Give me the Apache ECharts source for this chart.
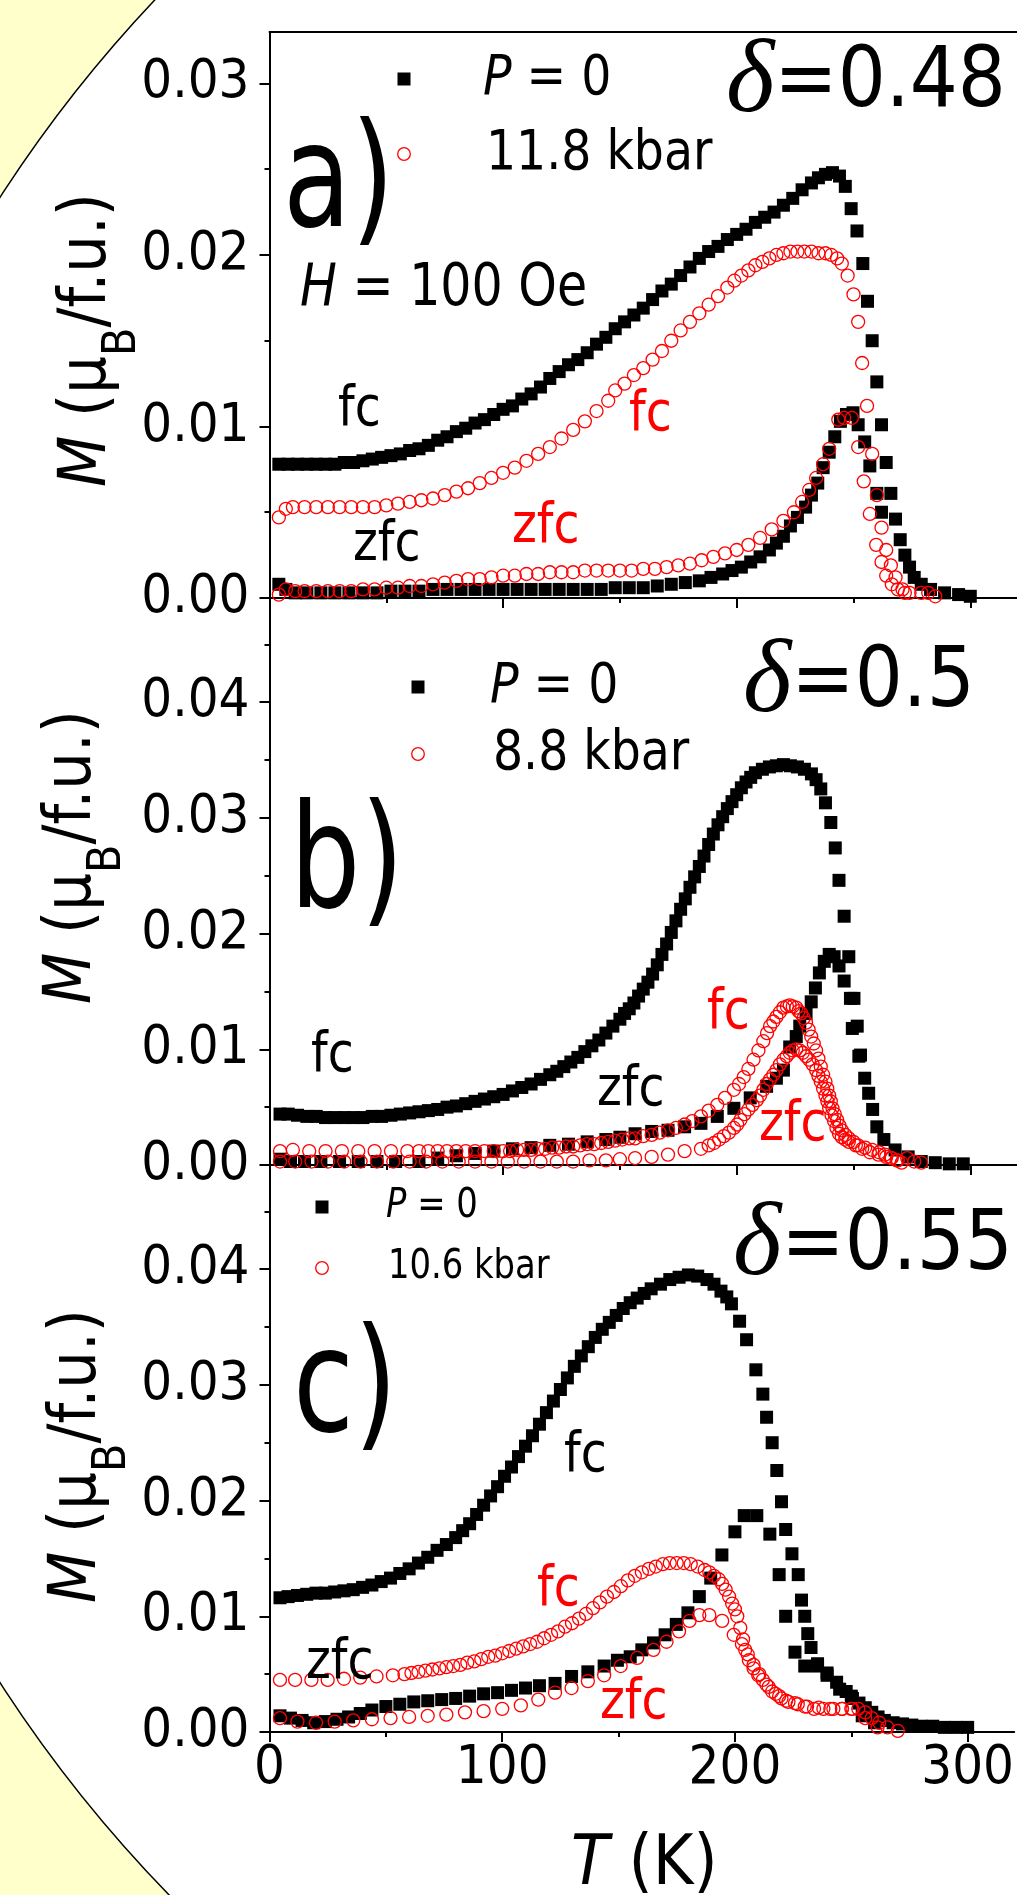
<!DOCTYPE html>
<html>
<head>
<meta charset="utf-8">
<script src="https://cdn.jsdelivr.net/npm/echarts@6/dist/echarts.min.js"></script>
<style>
html,body{margin:0;padding:0;background:#fff;}
#chart{width:1017px;height:1895px;}
</style>
</head>
<body>
<div id="chart"></div>
<script>
// 面板a  delta=0.48
var a_p0_fc = [[4,0.0078],[8,0.0078],[12,0.0078],[16,0.0078],[20,0.0078],[24,0.0078],[28,0.0078],[32,0.0079],[36,0.0079],[40,0.0080],[44,0.0081],[48,0.0082],[52,0.0083],[56,0.0084],[60,0.0086],[64,0.0087],[68,0.0089],[72,0.0092],[76,0.0094],[80,0.0097],[84,0.0099],[88,0.0102],[92,0.0104],[96,0.0107],[100,0.0110],[104,0.0112],[108,0.0116],[112,0.0119],[116,0.0123],[120,0.0128],[124,0.0132],[128,0.0136],[132,0.0139],[136,0.0143],[140,0.0148],[144,0.0152],[148,0.0157],[152,0.0161],[156,0.0165],[160,0.0169],[164,0.0174],[168,0.0179],[172,0.0183],[176,0.0188],[180,0.0193],[184,0.0198],[188,0.0202],[192,0.0205],[196,0.0209],[200,0.0212],[204,0.0215],[208,0.0219],[212,0.0222],[216,0.0225],[220,0.0229],[224,0.0233],[228,0.0238],[232,0.0242],[235,0.0245],[238,0.0247],[241,0.0248],[244,0.0246],[246.5,0.0240],[249,0.0227],[251.5,0.0214],[254,0.0195],[256,0.0173],[258,0.0150],[260,0.0126],[262,0.0101],[264,0.0079],[266,0.0061],[268,0.0046],[270,0.0034],[272,0.0025],[274,0.0018],[276,0.0012],[279,0.0008],[283,0.0005],[289,0.0003],[295,0.0002],[300,0.0001]];
var a_p0_zfc = [[4,0.0008],[7,0.0005],[11,0.0003],[16,0.0003],[22,0.0003],[28,0.0003],[34,0.0003],[40,0.0003],[46,0.0003],[52,0.0004],[58,0.0004],[64,0.0004],[70,0.0005],[76,0.0005],[82,0.0005],[88,0.0005],[94,0.0005],[100,0.0005],[106,0.0005],[112,0.0005],[118,0.0005],[124,0.0005],[130,0.0005],[136,0.0005],[142,0.0005],[148,0.0006],[154,0.0006],[160,0.0006],[166,0.0007],[172,0.0008],[178,0.0009],[184,0.0010],[189,0.0012],[194,0.0014],[198,0.0016],[202,0.0018],[206,0.0021],[210,0.0024],[214,0.0028],[217,0.0032],[220,0.0036],[223,0.0042],[226,0.0047],[229.5,0.0053],[232,0.0060],[234.7,0.0067],[237,0.0076],[239.6,0.0085],[242,0.0094],[244.4,0.0103],[247,0.0107],[249.8,0.0108],[252,0.0101],[254.8,0.0091],[257,0.0077],[260,0.0061],[262,0.0050]];
var a_p1_fc = [[4,0.0047],[7,0.0052],[10,0.0053],[15,0.0053],[20,0.0053],[25,0.0053],[30,0.0053],[35,0.0053],[40,0.0053],[45,0.0053],[50,0.0054],[55,0.0055],[60,0.0056],[65,0.0057],[70,0.0058],[75,0.0060],[80,0.0062],[85,0.0064],[90,0.0067],[95,0.0070],[100,0.0073],[105,0.0076],[110,0.0080],[115,0.0084],[120,0.0088],[125,0.0093],[130,0.0098],[135,0.0103],[140,0.0109],[145,0.0115],[148,0.0121],[152,0.0125],[156,0.0130],[160,0.0134],[164,0.0139],[168,0.0144],[172,0.0150],[176,0.0156],[180,0.0161],[184,0.0166],[188,0.0171],[192,0.0176],[196,0.0181],[199,0.0185],[202,0.0188],[205,0.0191],[208,0.0194],[211,0.0196],[214,0.0198],[217,0.0200],[220,0.0201],[223,0.0202],[226,0.0202],[229,0.0202],[232,0.0202],[235,0.0201],[238,0.0201],[240.5,0.0200],[243,0.0198],[245,0.0195],[247.5,0.0188],[250,0.0177],[252,0.0161],[253.7,0.0137],[255.8,0.0112],[258,0.0084],[260,0.0060],[262,0.0041],[264,0.0028],[266,0.0019],[268,0.0012],[271,0.0005],[274,0.0003],[279,0.0003],[282,0.0003],[285,0.0001]];
var a_p1_zfc = [[4,0.0002],[7,0.0005],[11,0.0004],[15,0.0004],[20,0.0004],[25,0.0004],[30,0.0004],[35,0.0004],[40,0.0005],[45,0.0005],[50,0.0006],[55,0.0006],[60,0.0007],[65,0.0007],[70,0.0008],[75,0.0009],[80,0.0010],[85,0.0011],[90,0.0011],[95,0.0012],[100,0.0013],[105,0.0013],[110,0.0014],[115,0.0014],[120,0.0015],[125,0.0015],[130,0.0015],[135,0.0016],[140,0.0016],[145,0.0016],[150,0.0016],[155,0.0016],[160,0.0017],[165,0.0017],[170,0.0018],[175,0.0019],[180,0.0020],[185,0.0022],[190,0.0024],[195,0.0026],[200,0.0028],[205,0.0031],[210,0.0035],[215,0.0040],[220,0.0045],[224.5,0.0050],[228,0.0056],[231,0.0063],[234,0.0070],[237,0.0078],[239.6,0.0087],[243.5,0.0104],[246,0.0105],[249.3,0.0105],[252,0.0088],[254.4,0.0068],[257,0.0049],[259.7,0.0031],[262,0.0021],[264,0.0013],[266.4,0.0008],[269,0.0005],[272,0.0003]];

// 面板b  delta=0.5
var b_p0_fc = [[4.5,0.0044],[8,0.0044],[12,0.0043],[16,0.0042],[20,0.0042],[24,0.0041],[28,0.0041],[32,0.0041],[36,0.0041],[40,0.0041],[44,0.0042],[48,0.0042],[52,0.0043],[56,0.0044],[60,0.0045],[64,0.0046],[68,0.0047],[72,0.0048],[76,0.0050],[80,0.0051],[84,0.0053],[88,0.0055],[92,0.0057],[96,0.0059],[100,0.0061],[104,0.0064],[108,0.0067],[112,0.0070],[116,0.0074],[120,0.0078],[123,0.0081],[126,0.0085],[129,0.0089],[132,0.0093],[135,0.0098],[138,0.0103],[141,0.0108],[144,0.0114],[147,0.0120],[150,0.0126],[152,0.0131],[154,0.0135],[156,0.0140],[158,0.0146],[160,0.0152],[162,0.0158],[164,0.0165],[166,0.0173],[168,0.0182],[170,0.0191],[172,0.0201],[174,0.0211],[176,0.0221],[178,0.0230],[180,0.0240],[182,0.0249],[184,0.0258],[186,0.0267],[188,0.0277],[190,0.0286],[192,0.0294],[194,0.0301],[196,0.0308],[198,0.0314],[200,0.0320],[202,0.0326],[204,0.0331],[206,0.0335],[208,0.0339],[211,0.0342],[214,0.0344],[217,0.0345],[220,0.0346],[223,0.0345],[226,0.0344],[229,0.0342],[232,0.0338],[234,0.0333],[236,0.0325],[238,0.0313],[240.3,0.0296],[242.2,0.0274],[243.8,0.0246],[246,0.0215],[248,0.0180],[250.2,0.0144],[251.6,0.0120],[253,0.0095],[254.8,0.0075],[256.5,0.0062],[258.2,0.0048],[260,0.0033],[263,0.0022],[267.8,0.0013],[273.4,0.0007],[279,0.0003],[285,0.0002],[291,0.0001],[297,0.0001]];
var b_p0_zfc = [[4.5,0.0005],[9,0.0003],[15,0.0003],[22,0.0003],[30,0.0003],[38,0.0003],[46,0.0003],[54,0.0003],[64,0.0003],[72,0.0006],[80,0.0008],[88,0.0010],[96,0.0012],[104,0.0014],[112,0.0015],[120,0.0017],[128,0.0018],[136,0.0020],[144,0.0022],[150,0.0024],[156.5,0.0027],[163.6,0.0029],[170.6,0.0030],[177.7,0.0033],[184.7,0.0036],[191.7,0.0042],[198.8,0.0049],[205.8,0.0058],[212.8,0.0068],[217,0.0075],[220,0.0082],[222.7,0.0102],[225.5,0.0111],[227,0.0120],[229.7,0.0131],[231.9,0.0141],[233.7,0.0153],[235.4,0.0166],[237.5,0.0176],[239.6,0.0182],[241.7,0.0180],[243.8,0.0172],[246,0.0159],[248.7,0.0144],[249.5,0.0118],[252.3,0.0094]];
var b_p1_fc = [[4.5,0.0012],[10,0.0013],[17,0.0012],[24,0.0012],[31,0.0012],[38,0.0012],[45,0.0012],[52,0.0012],[59,0.0012],[64,0.0012],[68,0.0012],[72,0.0012],[76,0.0012],[80,0.0012],[84,0.0012],[88,0.0012],[92,0.0012],[96,0.0012],[100,0.0012],[103,0.0012],[106,0.0013],[109,0.0013],[112,0.0013],[115,0.0014],[118,0.0014],[121,0.0015],[124,0.0015],[127,0.0016],[130,0.0016],[133,0.0017],[136,0.0018],[139,0.0018],[142,0.0019],[145,0.0020],[148,0.0021],[151,0.0022],[154,0.0023],[156.5,0.0023],[160,0.0025],[163.6,0.0026],[167,0.0028],[170.6,0.0030],[174,0.0032],[177.7,0.0035],[181,0.0038],[184.7,0.0042],[188,0.0047],[191.7,0.0052],[195,0.0058],[198.8,0.0065],[201,0.0070],[203,0.0076],[205,0.0083],[207.2,0.0091],[209.3,0.0099],[211.4,0.0107],[213,0.0114],[214.3,0.0120],[215.7,0.0124],[217,0.0128],[218.5,0.0132],[220,0.0136],[221.5,0.0137],[222.7,0.0138],[224,0.0137],[225.5,0.0136],[226.5,0.0133],[227.6,0.0131],[228.7,0.0127],[229.7,0.0123],[230.8,0.0117],[231.9,0.0111],[233,0.0105],[234,0.0099],[235,0.0092],[236,0.0085],[237,0.0078],[238,0.0072],[238.8,0.0066],[239.6,0.0060],[240.3,0.0055],[241,0.0049],[242,0.0044],[243,0.0039],[244,0.0034],[245,0.0030],[246.5,0.0026],[248,0.0023],[250,0.0020],[252,0.0017],[255,0.0015],[258,0.0013],[261,0.0011],[263.5,0.0009],[266,0.0006],[269,0.0004],[273,0.0006],[276,0.0003],[279,0.0002]];
var b_p1_zfc = [[4.5,0.0003],[11,0.0003],[18,0.0003],[25,0.0003],[32,0.0003],[39,0.0003],[46,0.0003],[53,0.0003],[60,0.0003],[67,0.0003],[74,0.0003],[81,0.0003],[88,0.0003],[95,0.0003],[102,0.0003],[109,0.0003],[116,0.0003],[123,0.0003],[130,0.0003],[137,0.0004],[144,0.0004],[150,0.0005],[156.5,0.0006],[163.6,0.0007],[170.6,0.0009],[177.7,0.0012],[184.7,0.0014],[188,0.0017],[190.3,0.0019],[192.5,0.0022],[194.5,0.0025],[196.7,0.0028],[198.8,0.0032],[200.2,0.0035],[201.6,0.0039],[203.3,0.0044],[205,0.0048],[206.8,0.0052],[208.6,0.0056],[210,0.0060],[211.4,0.0065],[212.8,0.0070],[214.3,0.0074],[215.7,0.0078],[217,0.0082],[218.5,0.0087],[220,0.0091],[221.4,0.0094],[222.7,0.0097],[224,0.0099],[225.5,0.0100],[227,0.0099],[228.3,0.0097],[229.7,0.0094],[231,0.0091],[232.5,0.0087],[234,0.0082],[235,0.0077],[236,0.0072],[237,0.0066],[238,0.0060],[238.8,0.0055],[239.6,0.0049],[240.6,0.0043],[241.7,0.0038],[242.7,0.0032],[243.8,0.0027],[245,0.0024],[246.5,0.0022],[248,0.0020],[251,0.0017],[253.7,0.0014],[257,0.0011],[260.7,0.0009],[264,0.0007],[266.4,0.0006],[268.5,0.0004],[270.6,0.0002]];

// 面板c  delta=0.55
var c_p0_fc = [[4.5,0.0116],[8,0.0117],[12,0.0118],[16,0.0119],[20,0.0120],[24,0.0120],[28,0.0121],[32,0.0122],[36,0.0123],[40,0.0125],[44,0.0127],[48,0.0130],[52,0.0133],[56,0.0137],[60,0.0141],[64,0.0146],[68,0.0151],[72,0.0157],[76,0.0162],[80,0.0168],[83,0.0174],[86,0.0180],[89,0.0188],[92,0.0196],[95,0.0204],[98,0.0212],[101,0.0221],[104,0.0229],[107,0.0238],[110,0.0247],[113,0.0256],[116,0.0266],[119,0.0276],[122,0.0286],[125,0.0296],[128,0.0306],[131,0.0316],[134,0.0325],[137,0.0333],[140,0.0341],[143,0.0348],[146,0.0354],[149,0.0360],[152,0.0366],[155,0.0371],[158,0.0375],[161,0.0379],[164,0.0383],[168,0.0387],[172,0.0391],[176,0.0393],[180,0.0395],[184,0.0394],[188,0.0391],[191,0.0387],[194,0.0381],[196.5,0.0376],[198.5,0.0370],[202,0.0355],[205,0.0339],[209,0.0313],[212,0.0292],[213.6,0.0272],[216,0.0250],[218,0.0226],[220,0.0199],[221.8,0.0175],[224.5,0.0154],[227.2,0.0136],[228.6,0.0114],[230,0.0100],[231.3,0.0085],[232.7,0.0073],[235.5,0.0059],[239.6,0.0051],[243.7,0.0043],[247.8,0.0035],[250,0.0031],[253.3,0.0025],[256,0.0021],[258.8,0.0017],[261.5,0.0013],[264.2,0.0010],[268,0.0008],[272,0.0007],[276,0.0006],[280,0.0005],[285,0.0005],[290,0.0004],[295,0.0004],[300,0.0004]];
var c_p0_zfc = [[4.5,0.0014],[9,0.0012],[14,0.0010],[19,0.0008],[24,0.0009],[29,0.0011],[34,0.0013],[39,0.0016],[44,0.0019],[50,0.0022],[56,0.0024],[62,0.0026],[68,0.0027],[74,0.0028],[80,0.0029],[86,0.0031],[92,0.0033],[98,0.0034],[104,0.0036],[110,0.0038],[116,0.0040],[122.7,0.0042],[129.8,0.0048],[136.8,0.0052],[143.8,0.0057],[149.5,0.0062],[155,0.0065],[160,0.0071],[165,0.0077],[170,0.0084],[174.8,0.0093],[179.8,0.0103],[184.7,0.0117],[189.6,0.0133],[194.4,0.0153],[200,0.0173],[204,0.0187],[209.4,0.0187],[215,0.0171],[219,0.0136],[221.8,0.0100],[225.8,0.0069],[230,0.0057],[235.5,0.0057],[239.6,0.0049],[245,0.0037],[250.5,0.0029],[254.7,0.0014],[260,0.0008]];
var c_p1_fc = [[4.5,0.0045],[11,0.0045],[18,0.0045],[25,0.0045],[32,0.0046],[39,0.0047],[46,0.0048],[53,0.0049],[58,0.0050],[61,0.0051],[64,0.0052],[67,0.0053],[70,0.0054],[73,0.0055],[76,0.0056],[79,0.0057],[82,0.0058],[85,0.0060],[88,0.0061],[91,0.0063],[94,0.0065],[97,0.0066],[100,0.0068],[103,0.0070],[106,0.0072],[109,0.0074],[112,0.0076],[115,0.0078],[118,0.0081],[121,0.0084],[124,0.0087],[127,0.0091],[130,0.0094],[133,0.0098],[136,0.0102],[139,0.0107],[142,0.0112],[145,0.0117],[148,0.0121],[151,0.0126],[154,0.0131],[157,0.0135],[160,0.0138],[163,0.0141],[166,0.0143],[169,0.0145],[172,0.0146],[175,0.0146],[178,0.0146],[181,0.0145],[184,0.0143],[187,0.0140],[189,0.0138],[191,0.0135],[193,0.0132],[194.5,0.0128],[196,0.0123],[197.5,0.0117],[198.8,0.0111],[200,0.0106],[201,0.0100],[202.3,0.0090],[203.5,0.0080],[204.4,0.0071],[206,0.0062],[208,0.0055],[210,0.0049],[212,0.0045],[214.5,0.0039],[217.5,0.0033],[220,0.0029],[223,0.0026],[227,0.0024],[231,0.0022],[236,0.0021],[241,0.0020],[246,0.0020],[250,0.0020],[253,0.0020],[256,0.0017],[258.8,0.0012],[262,0.0008],[265.5,0.0004],[270,0.0001]];
var c_p1_zfc = [[4.5,0.0012],[12,0.0009],[20,0.0008],[28,0.0009],[36,0.0010],[44,0.0011],[52,0.0012],[60,0.0013],[68,0.0014],[76,0.0015],[84,0.0017],[92,0.0018],[100,0.0020],[108,0.0023],[115.5,0.0028],[122.7,0.0034],[129.8,0.0038],[136.8,0.0044],[143.8,0.0049],[150.9,0.0057],[158,0.0064],[165,0.0071],[170.6,0.0078],[176,0.0087],[180.5,0.0096],[184.7,0.0101],[189,0.0101],[194.5,0.0096],[199.5,0.0084],[203,0.0076],[205.5,0.0067],[208,0.0058],[210.5,0.0050],[213.5,0.0041],[216,0.0035],[219,0.0031],[222,0.0027],[225.8,0.0025],[230,0.0022],[234,0.0020],[238,0.0020],[242.3,0.0020],[246,0.0020],[250.5,0.0020],[256,0.0012],[261.3,0.0004]];

// 刻度
var xMajor = [0, 100, 200, 300];
var xMinor = [50, 150, 250];
var yMaxes = [0.033, 0.049, 0.049];
var yMajor = [[0, 0.01, 0.02, 0.03], [0, 0.01, 0.02, 0.03, 0.04], [0, 0.01, 0.02, 0.03, 0.04]];
var yMinor = [[0.005, 0.015, 0.025], [0.005, 0.015, 0.025, 0.035, 0.045], [0.005, 0.015, 0.025, 0.035, 0.045]];
var deltas = ['0.48', '0.5', '0.55'];
var pressures = ['11.8 kbar', '8.8 kbar', '10.6 kbar'];

var SANS = "'DejaVu Sans Condensed','DejaVu Sans',sans-serif";
var SERIF = "'Liberation Serif','DejaVu Serif',serif";

var gridTops = [32, 598, 1165];
var gridH = [566, 567, 567];

var chart = echarts.init(document.getElementById('chart'), null, {renderer: 'canvas'});

var grid = [], xAxis = [], yAxis = [], series = [];
var axisLine = {show: true, onZero: false, lineStyle: {color: '#000', width: 2}};
for (var i = 0; i < 3; i++) {
	grid.push({left: 269.5, top: gridTops[i], width: 757.4, height: gridH[i], containLabel: false});
	xAxis.push({
		type: 'value', gridIndex: i, position: 'bottom', min: 0, max: 320,
		axisLine: axisLine,
		axisTick: {show: true, length: 10, customValues: xMajor, lineStyle: {color: '#000', width: 2}},
		axisLabel: {show: i == 2, customValues: xMajor, fontSize: 54, fontFamily: SANS, color: '#000', margin: 10},
		splitLine: {show: false}
	});
	yAxis.push({
		type: 'value', gridIndex: i, position: 'left', min: 0, max: yMaxes[i],
		axisLine: axisLine,
		axisTick: {show: true, length: 10, customValues: yMajor[i], lineStyle: {color: '#000', width: 2}},
		axisLabel: {show: true, customValues: yMajor[i], fontSize: 54, fontFamily: SANS, color: '#000', margin: 20,
			formatter: function (v) { return v.toFixed(2); }},
		splitLine: {show: false}
	});
}
// 次刻度
for (var i = 0; i < 3; i++) {
	xAxis.push({
		type: 'value', gridIndex: i, position: 'bottom', min: 0, max: 320,
		axisLine: {show: false},
		axisTick: {show: true, length: 5, customValues: xMinor, lineStyle: {color: '#000', width: 2}},
		axisLabel: {show: false}, splitLine: {show: false}
	});
	yAxis.push({
		type: 'value', gridIndex: i, position: 'left', min: 0, max: yMaxes[i],
		axisLine: {show: false},
		axisTick: {show: true, length: 5, customValues: yMinor[i], lineStyle: {color: '#000', width: 2}},
		axisLabel: {show: false}, splitLine: {show: false}
	});
}
xAxis.push({
	type: 'value', gridIndex: 0, position: 'top', min: 0, max: 320,
	axisLine: axisLine, axisTick: {show: false}, axisLabel: {show: false}, splitLine: {show: false}
});

function squares(data, i) {
	return {type: 'scatter', xAxisIndex: i, yAxisIndex: i, data: data, symbol: 'rect', symbolSize: 13,
		itemStyle: {color: '#000', opacity: 1}, silent: true, z: 2};
}
function rings(data, i) {
	return {type: 'scatter', xAxisIndex: i, yAxisIndex: i, data: data, symbol: 'circle', symbolSize: 13,
		itemStyle: {color: 'rgba(255,255,255,0)', borderColor: '#ff0000', borderWidth: 1.3, opacity: 1}, silent: true, z: 3};
}
series.push(squares(a_p0_fc, 0), squares(a_p0_zfc, 0), rings(a_p1_fc, 0), rings(a_p1_zfc, 0));
series.push(squares(b_p0_fc, 1), squares(b_p0_zfc, 1), rings(b_p1_fc, 1), rings(b_p1_zfc, 1));
series.push(squares(c_p0_fc, 2), squares(c_p0_zfc, 2), rings(c_p1_fc, 2), rings(c_p1_zfc, 2));

function txt(x, y, text, size, color, rich, sx) {
	return {type: 'text', x: x, y: y, z: 100, silent: true, scaleX: sx || 0.94,
		style: {text: text, fontSize: size, fontFamily: SANS, fill: color || '#000',
			align: 'left', verticalAlign: 'middle', textAlign: 'left', textVerticalAlign: 'middle', rich: rich}};
}
function italic(size) {
	return {i: {fontStyle: 'italic', fontSize: size, fontFamily: SANS, fill: '#000'}};
}
function deltaTxt(x, y, val) {
	return txt(x, y, '{d|δ}{n|=' + val + '}', 84, '#000', {
		d: {fontFamily: SERIF, fontStyle: 'italic', fontSize: 104, fill: '#000'},
		n: {fontFamily: SANS, fontSize: 84, fill: '#000'}
	}, 1);
}
function yName(x, y) {
	var t = txt(x, y, '{i|M} (μ{s|B}/f.u.)', 66, '#000', {
		i: {fontStyle: 'italic', fontSize: 66, fontFamily: SANS, fill: '#000'},
		s: {fontSize: 46, fontFamily: SANS, fill: '#000', verticalAlign: 'bottom', padding: [70, 0, 0, 0]}
	}, 1);
	t.style.align = 'center'; t.style.textAlign = 'center';
	t.rotation = Math.PI / 2;
	return t;
}
function legendMarks(x, y1, y2) {
	return [
		{type: 'rect', z: 100, silent: true, shape: {x: x - 6.5, y: y1 - 6.5, width: 13, height: 13}, style: {fill: '#000'}},
		{type: 'circle', z: 100, silent: true, shape: {cx: x, cy: y2, r: 6.3}, style: {fill: 'none', stroke: '#ff0000', lineWidth: 1.3}}
	];
}

var graphic = [
	{type: 'circle', z: -100, silent: true, shape: {cx: 1150, cy: 940, r: 1369}, style: {fill: '#fff', stroke: '#000', lineWidth: 1.5}},
	// a
	txt(483, 79, '{i|P} = 0', 56, '#000', italic(56)),
	txt(486, 154, pressures[0], 56),
	deltaTxt(726, 84, deltas[0]),
	txt(283, 188, 'a)', 145, '#000', null, 0.85),
	txt(300, 290, '{i|H} = 100 Oe', 58, '#000', italic(58)),
	txt(338, 410, 'fc', 56),
	txt(353, 545, 'zfc', 56),
	txt(629, 415, 'fc', 56, '#ff0000'),
	txt(512, 527, 'zfc', 56, '#ff0000'),
	yName(88, 340),
	// b
	txt(490, 687, '{i|P} = 0', 56, '#000', italic(56)),
	txt(493, 754, pressures[1], 56),
	deltaTxt(743, 684, deltas[1]),
	txt(290, 869, 'b)', 145, '#000', null, 0.85),
	txt(311, 1056, 'fc', 56),
	txt(597, 1090, 'zfc', 56),
	txt(707, 1013, 'fc', 56, '#ff0000'),
	txt(759, 1125, 'zfc', 56, '#ff0000'),
	yName(73, 857),
	// c
	txt(386, 1207, '{i|P} = 0', 40, '#000', italic(40)),
	txt(388, 1268, pressures[2], 40),
	deltaTxt(733, 1247, deltas[2]),
	txt(293, 1393, 'c)', 145, '#000', null, 0.85),
	txt(564, 1456, 'fc', 56),
	txt(537, 1590, 'fc', 56, '#ff0000'),
	txt(306, 1663, 'zfc', 56),
	txt(600, 1703, 'zfc', 56, '#ff0000'),
	yName(78, 1456),
	txt(571, 1866, '{i|T} (K)', 69, '#000', italic(69), 1)
];
graphic = graphic.concat(legendMarks(404, 79, 154), legendMarks(418, 687, 754), legendMarks(322, 1207, 1268));

var option = {
	backgroundColor: '#ffffcc',
	animation: false,
	grid: grid,
	xAxis: xAxis,
	yAxis: yAxis,
	series: series,
	graphic: graphic
};
chart.setOption(option);
</script>
</body>
</html>
